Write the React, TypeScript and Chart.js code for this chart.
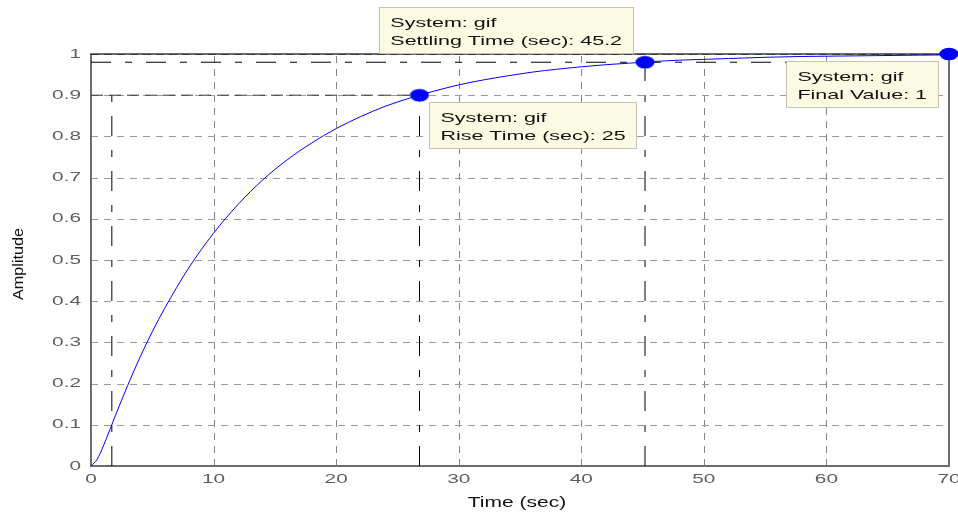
import React, { useEffect, useRef } from "react";
import { Chart, registerables } from "chart.js";

Chart.register(...registerables);

// Step response samples
const timeSec = [0, 0.5, 1, 1.5, 2, 3, 4, 5, 6, 8, 10, 12, 14, 16, 18, 20, 22, 24, 26, 28, 30, 32, 34, 36, 38, 40, 42, 44, 46, 48, 50, 52, 55, 58, 61, 64, 67, 70];
const amplitude = [0, 0.016, 0.048, 0.085, 0.123, 0.196, 0.264, 0.326, 0.382, 0.482, 0.565, 0.635, 0.694, 0.743, 0.784, 0.819, 0.848, 0.873, 0.893, 0.91, 0.925, 0.937, 0.947, 0.956, 0.963, 0.969, 0.974, 0.978, 0.982, 0.985, 0.987, 0.989, 0.992, 0.994, 0.995, 0.996, 0.997, 0.998];

// Characteristic points
const riseLowTime = 1.7;
const riseHighTime = 26.8;
const riseHighValue = 0.9;
const settlingTime = 45.2;
const settlingValue = 0.98;
const finalTime = 70;
const finalValue = 1;

const xTickLabels = ["0", "10", "20", "30", "40", "50", "60", "70"];
const yTickLabels = ["0", "0.1", "0.2", "0.3", "0.4", "0.5", "0.6", "0.7", "0.8", "0.9", "1"];

const riseLines = ["System: gif", "Rise Time (sec): 25"];
const settleLines = ["System: gif", "Settling Time (sec): 45.2"];
const finalLines = ["System: gif", "Final Value: 1"];

const FONT = '"Liberation Sans", Arial, Helvetica, sans-serif';
const SX = 1.65;

function stretchedText(ctx: CanvasRenderingContext2D, text: string, x: number, y: number, align: CanvasTextAlign, sx: number) {
  ctx.save();
  ctx.translate(x, y);
  ctx.scale(sx, 1);
  ctx.textAlign = align;
  ctx.fillText(text, 0, 0);
  ctx.restore();
}

function drawBox(ctx: CanvasRenderingContext2D, lines: string[], left: number | null, right: number | null, top: number | null, bottom: number | null) {
  ctx.save();
  ctx.font = `13px ${FONT}`;
  const tw = Math.max(...lines.map((l) => ctx.measureText(l).width)) * SX;
  const w = tw + 22;
  const h = 46;
  const x = left !== null ? left : (right as number) - w;
  const y = top !== null ? top : (bottom as number) - h;
  ctx.fillStyle = "#fbfbe3";
  ctx.fillRect(x, y, w, h);
  ctx.strokeStyle = "#c4c4b4";
  ctx.lineWidth = 1;
  ctx.strokeRect(Math.round(x) + 0.5, Math.round(y) + 0.5, Math.round(w), Math.round(h));
  ctx.fillStyle = "#111";
  ctx.textBaseline = "alphabetic";
  stretchedText(ctx, lines[0], x + 11, y + 19.5, "left", SX);
  stretchedText(ctx, lines[1], x + 11, y + 38, "left", SX);
  ctx.restore();
}

const gridPlugin = {
  id: "matlabGrid",
  beforeDatasetsDraw(chart: any) {
    const { ctx, chartArea } = chart;
    const xs = chart.scales.x;
    const ys = chart.scales.y;
    ctx.save();
    ctx.lineWidth = 1;
    ctx.setLineDash([7, 6]);
    xs.ticks.forEach((t: any) => {
      if (t.value <= xs.min || t.value >= xs.max) return;
      const px = Math.round(xs.getPixelForValue(t.value)) + 0.5;
      ctx.strokeStyle = "#858585";
      ctx.beginPath();
      ctx.moveTo(px, chartArea.bottom);
      ctx.lineTo(px, chartArea.top);
      ctx.stroke();
    });
    ys.ticks.forEach((t: any) => {
      if (t.value <= ys.min + 1e-9 || t.value >= ys.max - 1e-9) return;
      const py = Math.round(ys.getPixelForValue(t.value)) + 0.5;
      ctx.strokeStyle = "#9a9a9a";
      ctx.beginPath();
      ctx.moveTo(chartArea.left, py);
      ctx.lineTo(chartArea.right, py);
      ctx.stroke();
    });
    ctx.setLineDash([]);
    ctx.strokeStyle = "#6c6c6c";
    ctx.lineWidth = 2;
    ctx.strokeRect(chartArea.left, chartArea.top, chartArea.right - chartArea.left, chartArea.bottom - chartArea.top);
    ctx.restore();
  },
  afterDraw(chart: any) {
    const { ctx, chartArea } = chart;
    const xs = chart.scales.x;
    const ys = chart.scales.y;
    ctx.save();
    ctx.font = `13px ${FONT}`;
    ctx.fillStyle = "#5e5e5e";
    ctx.textBaseline = "middle";
    xs.ticks.forEach((t: any, i: number) => {
      const px = xs.getPixelForValue(t.value);
      stretchedText(ctx, xTickLabels[i] ?? String(t.value), px, chartArea.bottom + 13.5, "center", 1.6);
    });
    ys.ticks.forEach((t: any, i: number) => {
      const py = ys.getPixelForValue(t.value);
      stretchedText(ctx, yTickLabels[i] ?? String(t.value), chartArea.left - 10, py, "right", 1.6);
    });
    // axis titles
    ctx.fillStyle = "#111";
    ctx.font = `14px ${FONT}`;
    ctx.textBaseline = "alphabetic";
    stretchedText(ctx, "Time (sec)", (chartArea.left + chartArea.right) / 2 - 3, 507, "center", 1.5);
    ctx.save();
    ctx.translate(23, 264);
    ctx.rotate(-Math.PI / 2);
    ctx.font = `14px ${FONT}`;
    const aw = ctx.measureText("Amplitude").width;
    ctx.scale(72 / aw, 1);
    ctx.textAlign = "center";
    ctx.fillText("Amplitude", 0, 0);
    ctx.restore();

    // data tip boxes anchored on the characteristic markers
    const rx = xs.getPixelForValue(riseHighTime);
    const ry = ys.getPixelForValue(riseHighValue);
    drawBox(ctx, riseLines, rx + 10, null, ry + 7, null);
    const sx = xs.getPixelForValue(settlingTime);
    const sy = ys.getPixelForValue(settlingValue);
    drawBox(ctx, settleLines, null, sx - 12, null, sy - 9);
    const fx = xs.getPixelForValue(finalTime);
    const fy = ys.getPixelForValue(finalValue);
    drawBox(ctx, finalLines, null, fx - 11, fy + 7, null);
    ctx.restore();
  },
};

export default function App() {
  const ref = useRef<HTMLCanvasElement>(null);
  useEffect(() => {
    const canvas = ref.current!;
    const marker = document.createElement("canvas");
    marker.width = 20;
    marker.height = 14;
    const mctx = marker.getContext("2d")!;
    mctx.fillStyle = "#0000ff";
    mctx.beginPath();
    mctx.ellipse(10, 7, 9.5, 6.3, 0, 0, Math.PI * 2);
    mctx.fill();

    const dashDot = [20, 14, 7, 14];
    const refLine = (pts: { x: number; y: number }[], dash: number[], color = "#000") => ({
      data: pts,
      showLine: true,
      borderColor: color,
      borderWidth: 1,
      borderDash: dash,
      pointRadius: 0,
      tension: 0,
    });

    const chart = new Chart(canvas, {
      type: "scatter",
      data: {
        datasets: [
          {
            data: [
              { x: riseHighTime, y: riseHighValue },
              { x: settlingTime, y: settlingValue },
              { x: finalTime, y: finalValue },
            ],
            pointStyle: marker as any,
            pointRadius: 8,
            showLine: false,
            clip: false as any,
          } as any,
          {
            data: timeSec.map((t, i) => ({ x: t, y: amplitude[i] })),
            showLine: true,
            borderColor: "#0000ff",
            borderWidth: 1,
            pointRadius: 0,
            cubicInterpolationMode: "monotone",
          } as any,
          refLine([{ x: 0, y: finalValue }, { x: finalTime, y: finalValue }], [8, 5]),
          refLine([{ x: 0, y: settlingValue }, { x: finalTime, y: settlingValue }], dashDot),
          refLine([{ x: settlingTime, y: 0 }, { x: settlingTime, y: settlingValue }], dashDot),
          refLine([{ x: riseLowTime, y: 0 }, { x: riseLowTime, y: riseHighValue }], dashDot),
          refLine([{ x: riseHighTime, y: 0 }, { x: riseHighTime, y: riseHighValue }], dashDot),
          refLine([{ x: 0, y: riseHighValue }, { x: riseHighTime, y: riseHighValue }], [12, 6], "#333"),
        ],
      },
      options: {
        animation: false,
        responsive: false,
        maintainAspectRatio: false,
        events: [],
        layout: { padding: { top: 54, right: 9, left: 0, bottom: 0 } },
        plugins: { legend: { display: false }, tooltip: { enabled: false } },
        scales: {
          x: {
            type: "linear",
            min: 0,
            max: 70,
            ticks: { stepSize: 10, display: false },
            grid: { display: false },
            border: { display: false },
            afterFit: (s: any) => {
              s.height = 47;
            },
          },
          y: {
            type: "linear",
            min: 0,
            max: 1,
            ticks: { stepSize: 0.1, display: false },
            grid: { display: false },
            border: { display: false },
            afterFit: (s: any) => {
              s.width = 91;
            },
          },
        },
      },
      plugins: [gridPlugin],
    } as any);
    return () => chart.destroy();
  }, []);
  return (
    <div style={{ position: "absolute", left: 0, top: 0, width: 958, height: 513, background: "#fff" }}>
      <canvas ref={ref} width={958} height={513} style={{ display: "block" }} />
    </div>
  );
}
